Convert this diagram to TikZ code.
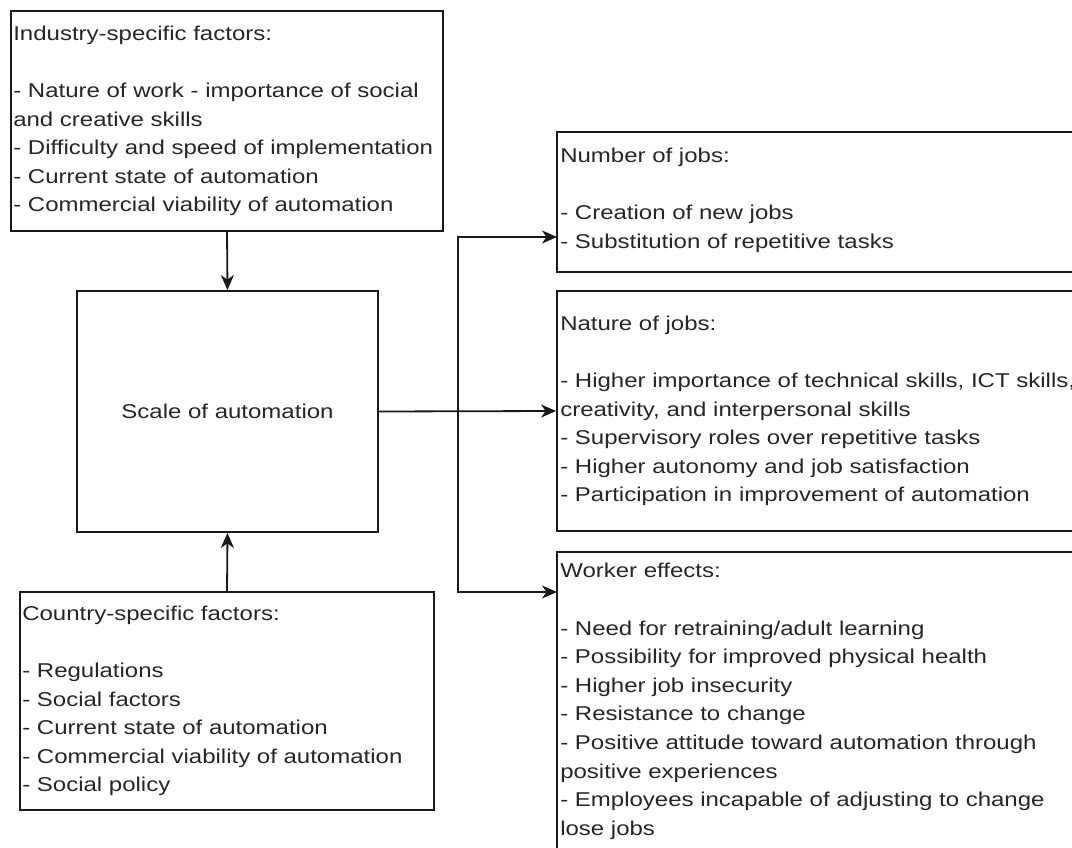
\documentclass[tikz,border=0pt]{standalone}
\usepackage{fontspec}
\setmainfont{Liberation Sans}[FakeStretch=1.2]
\usetikzlibrary{arrows.meta}
\begin{document}
\begin{tikzpicture}[x=1pt,y=-1pt,
  box/.style={draw=black!90, line width=1.8pt, rectangle, inner sep=0pt},
  txt/.style={anchor=west, align=left, inner sep=0pt, text=black!85, font=\fontsize{20}{28.6}\selectfont},
  arr/.style={draw=black!90, line width=1.8pt, -{Stealth[length=15pt,width=13pt,inset=4.5pt]}}]
\useasboundingbox (0,0) rectangle (1072,848);
\fill[white] (0,0) rectangle (1072,848);
\clip (0,0) rectangle (1072,848);

% left column
\node[box, minimum width=432pt, minimum height=220pt] (ind) at (227,121) {};
\node[txt] (indt) at ([xshift=3pt]ind.west) {Industry-specific factors:\\[28.6pt]
- Nature of work - importance of social\\
and creative skills\\
- Difficulty and speed of implementation\\
- Current state of automation\\
- Commercial viability of automation};

\node[box, minimum width=301pt, minimum height=241pt] (scale) at (227.5,411.5) {};
\node[txt, anchor=center] (scalet) at (scale.center) {Scale of automation};

\node[box, minimum width=414pt, minimum height=218pt] (cty) at (227,701) {};
\node[txt] (ctyt) at ([xshift=3pt]cty.west) {Country-specific factors:\\[28.6pt]
- Regulations\\
- Social factors\\
- Current state of automation\\
- Commercial viability of automation\\
- Social policy};

% right column
\node[box, minimum width=560pt, minimum height=140pt] (num) at (837,202) {};
\node[txt] (numt) at ([xshift=4pt,yshift=1.5pt]num.west) {Number of jobs:\\[28.6pt]
- Creation of new jobs\\
- Substitution of repetitive tasks};

\node[box, minimum width=560pt, minimum height=240pt] (nat) at (837,411) {};
\node[txt] (natt) at ([xshift=4pt]nat.west) {Nature of jobs:\\[28.6pt]
- Higher importance of technical skills, ICT skills,\\
creativity, and interpersonal skills\\
- Supervisory roles over repetitive tasks\\
- Higher autonomy and job satisfaction\\
- Participation in improvement of automation};

\node[box, minimum width=560pt, minimum height=299pt] (wrk) at (837,701.5) {};
\node[txt] (wrkt) at ([xshift=4pt]wrk.west) {Worker effects:\\[28.6pt]
- Need for retraining/adult learning\\
- Possibility for improved physical health\\
- Higher job insecurity\\
- Resistance to change\\
- Positive attitude toward automation through\\
positive experiences\\
- Employees incapable of adjusting to change\\
lose jobs};

% connectors
\coordinate (jn) at (458,411.5);
\coordinate (numin) at (557,237);
\coordinate (wrkin) at (557,592);
\draw[arr] (ind.south) -- (scale.north);
\draw[arr] (cty.north) -- (scale.south);
\draw[arr] (scale.east) -- (nat.west);
\draw[arr] (scale.east) -- (jn) |- (numin);
\draw[arr] (scale.east) -- (jn) |- (wrkin);
\end{tikzpicture}
\end{document}
